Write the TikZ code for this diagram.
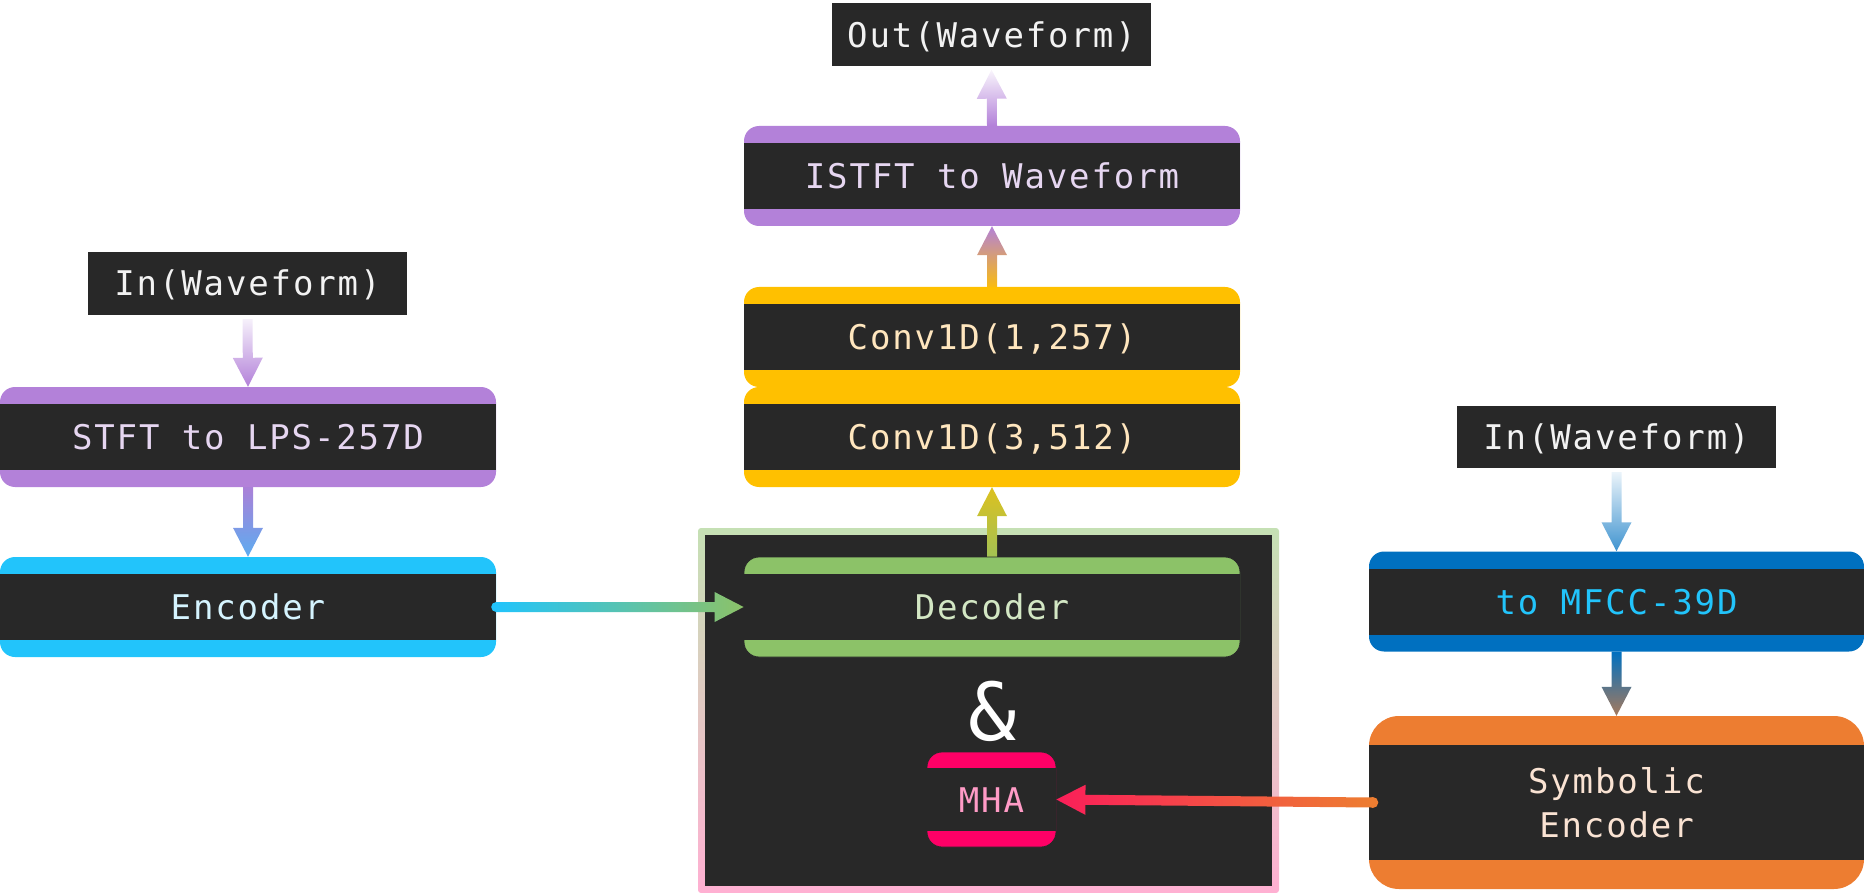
\documentclass[tikz,border=0pt]{standalone}
\usepackage{fontspec}
\usepackage{tikz}
\usetikzlibrary{calc}

\newfontfamily\monofam{DejaVu Sans Mono}[LetterSpace=5.5]
\newfontfamily\ampfam{DejaVu Sans Mono}

\definecolor{boxbg}{HTML}{282828}
\definecolor{lilac}{HTML}{B381D9}
\definecolor{lilactext}{HTML}{E6D6F1}
\definecolor{sky}{HTML}{22C4FB}
\definecolor{skytext}{HTML}{D5F4FF}
\definecolor{amber}{HTML}{FFC000}
\definecolor{ambertext}{HTML}{FFE6BE}
\definecolor{leaf}{HTML}{8CC268}
\definecolor{leaftext}{HTML}{D3E7C4}
\definecolor{leafedge}{HTML}{C5E0B4}
\definecolor{rose}{HTML}{FF0066}
\definecolor{rosetext}{HTML}{FF9BC6}
\definecolor{roseedge}{HTML}{FFB0D2}
\definecolor{navy}{HTML}{0070C0}
\definecolor{tangerine}{HTML}{ED7D31}
\definecolor{tangerinetext}{HTML}{FAE3D3}
\definecolor{cornflower}{HTML}{5DACF0}

% shaded arrow from #2 to #3, colour #4 into #5, #1 = radius of a round tail
\newcommand\flow[5][0pt]{%
  \path (#2) coordinate (fa) (#3) coordinate (fb) ($(fb)!29pt!(fa)$) coordinate (fh);
  \pgfpointdiff{\pgfpointanchor{fa}{center}}{\pgfpointanchor{fb}{center}}%
  \pgfgetlastxy{\flowdx}{\flowdy}%
  \pgfmathsetmacro\flowang{atan2(\flowdy,\flowdx)-90}%
  \fill[#4] (fa) circle[radius=#1];
  \shade[bottom color=#4, top color=#5, shading angle=\flowang]
    ($(fa)!5pt!90:(fb)$) -- ($(fh)!5pt!90:(fb)$) -- ($(fh)!15pt!90:(fb)$) -- (fb)
    -- ($(fh)!15pt!-90:(fb)$) -- ($(fh)!5pt!-90:(fb)$) -- ($(fa)!5pt!-90:(fb)$) -- cycle;
}

\tikzset{
  tag/.style={fill=boxbg, text=white!95!black, font=\monofam\fontsize{34}{44}\selectfont,
    minimum width=319pt, minimum height=63pt, inner sep=0pt, text height=25pt, text depth=0pt},
  band/.store in=\bandw, band=17pt,
  block/.style 2 args={fill=#1, text=#2, rounded corners=15pt, font=\monofam\fontsize{34}{44}\selectfont,
    minimum width=496pt, minimum height=100pt, inner sep=0pt, text height=25pt, text depth=0pt,
    path picture={\fill[boxbg, sharp corners] ([yshift=-\bandw]path picture bounding box.north west)
      rectangle ([yshift=\bandw]path picture bounding box.south east);}},
}

\begin{document}
\begin{tikzpicture}[x=1pt, y=-1pt]
\useasboundingbox (0,0) rectangle (1864,893);

% spectrum branch
\node[tag] (inL) at (247.5,283.5) {In(Waveform)};
\node[block={lilac}{lilactext}] (stft) at (248,437) {STFT to LPS-257D};
\node[block={sky}{skytext}] (enc) at (248,607) {Encoder};

% output stack
\node[tag] (out) at (991.5,35) {Out(Waveform)};
\node[block={lilac}{lilactext}] (istft) at (992,176) {ISTFT to Waveform};
\node[block={amber}{ambertext}] (conv1) at (992,337) {Conv1D(1,257)};
\node[block={amber}{ambertext}] (conv3) at (992,437) {Conv1D(3,512)};

% decoder block
\shade[top color=leafedge, bottom color=roseedge, rounded corners=3pt] (698,528) rectangle (1279,893);
\fill[boxbg] (705,535) rectangle (1272,886);
\node[block={leaf}{leaftext}, draw=boxbg, line width=0.8pt] (dec) at (992,607) {Decoder};
\node[text=white, font=\ampfam\fontsize{80}{80}\selectfont, inner sep=0pt, text height=58pt, text depth=0pt] (amp) at (993,711) {\&};
\node[block={rose}{rosetext}, draw=boxbg, line width=0.8pt, minimum width=129pt, minimum height=95pt, band=16pt] (mha) at (991.5,799.5) {MHA};

% symbolic branch
\node[tag, minimum height=62pt] (inR) at (1616.5,437) {In(Waveform)};
\node[block={navy}{sky}, minimum width=495pt] (mfcc) at (1616.5,601.5) {to MFCC-39D};
\node[block={tangerine}{tangerinetext}, minimum width=495pt, minimum height=173pt, band=29pt,
  rounded corners=30pt, align=center, text height={}, text depth={}] (sym) at (1616.5,802.5) {Symbolic\\Encoder};

% arrows
\flow{[yshift=-4pt]inL.south}{stft.north}{lilac!12!white}{lilac}
\flow{stft.south}{enc.north}{lilac!95!navy}{cornflower}
\flow[5pt]{enc.east}{dec.west}{sky}{leaf}
\flow{dec.north}{conv3.south}{leaf!80!amber}{amber!70!leaf}
\flow{conv1.north}{istft.south}{amber!92!lilac}{lilac}
\flow{istft.north}{[yshift=-3pt]out.south}{lilac}{lilac!8!white}
\flow{[yshift=-4pt]inR.south}{mfcc.north}{navy!8!white}{navy!75!white}
\flow{mfcc.south}{sym.north}{navy}{tangerine!70!navy}
\flow[5.5pt]{[xshift=4pt]sym.west}{mha.east}{tangerine}{rose!75!tangerine}

\end{tikzpicture}
\end{document}
